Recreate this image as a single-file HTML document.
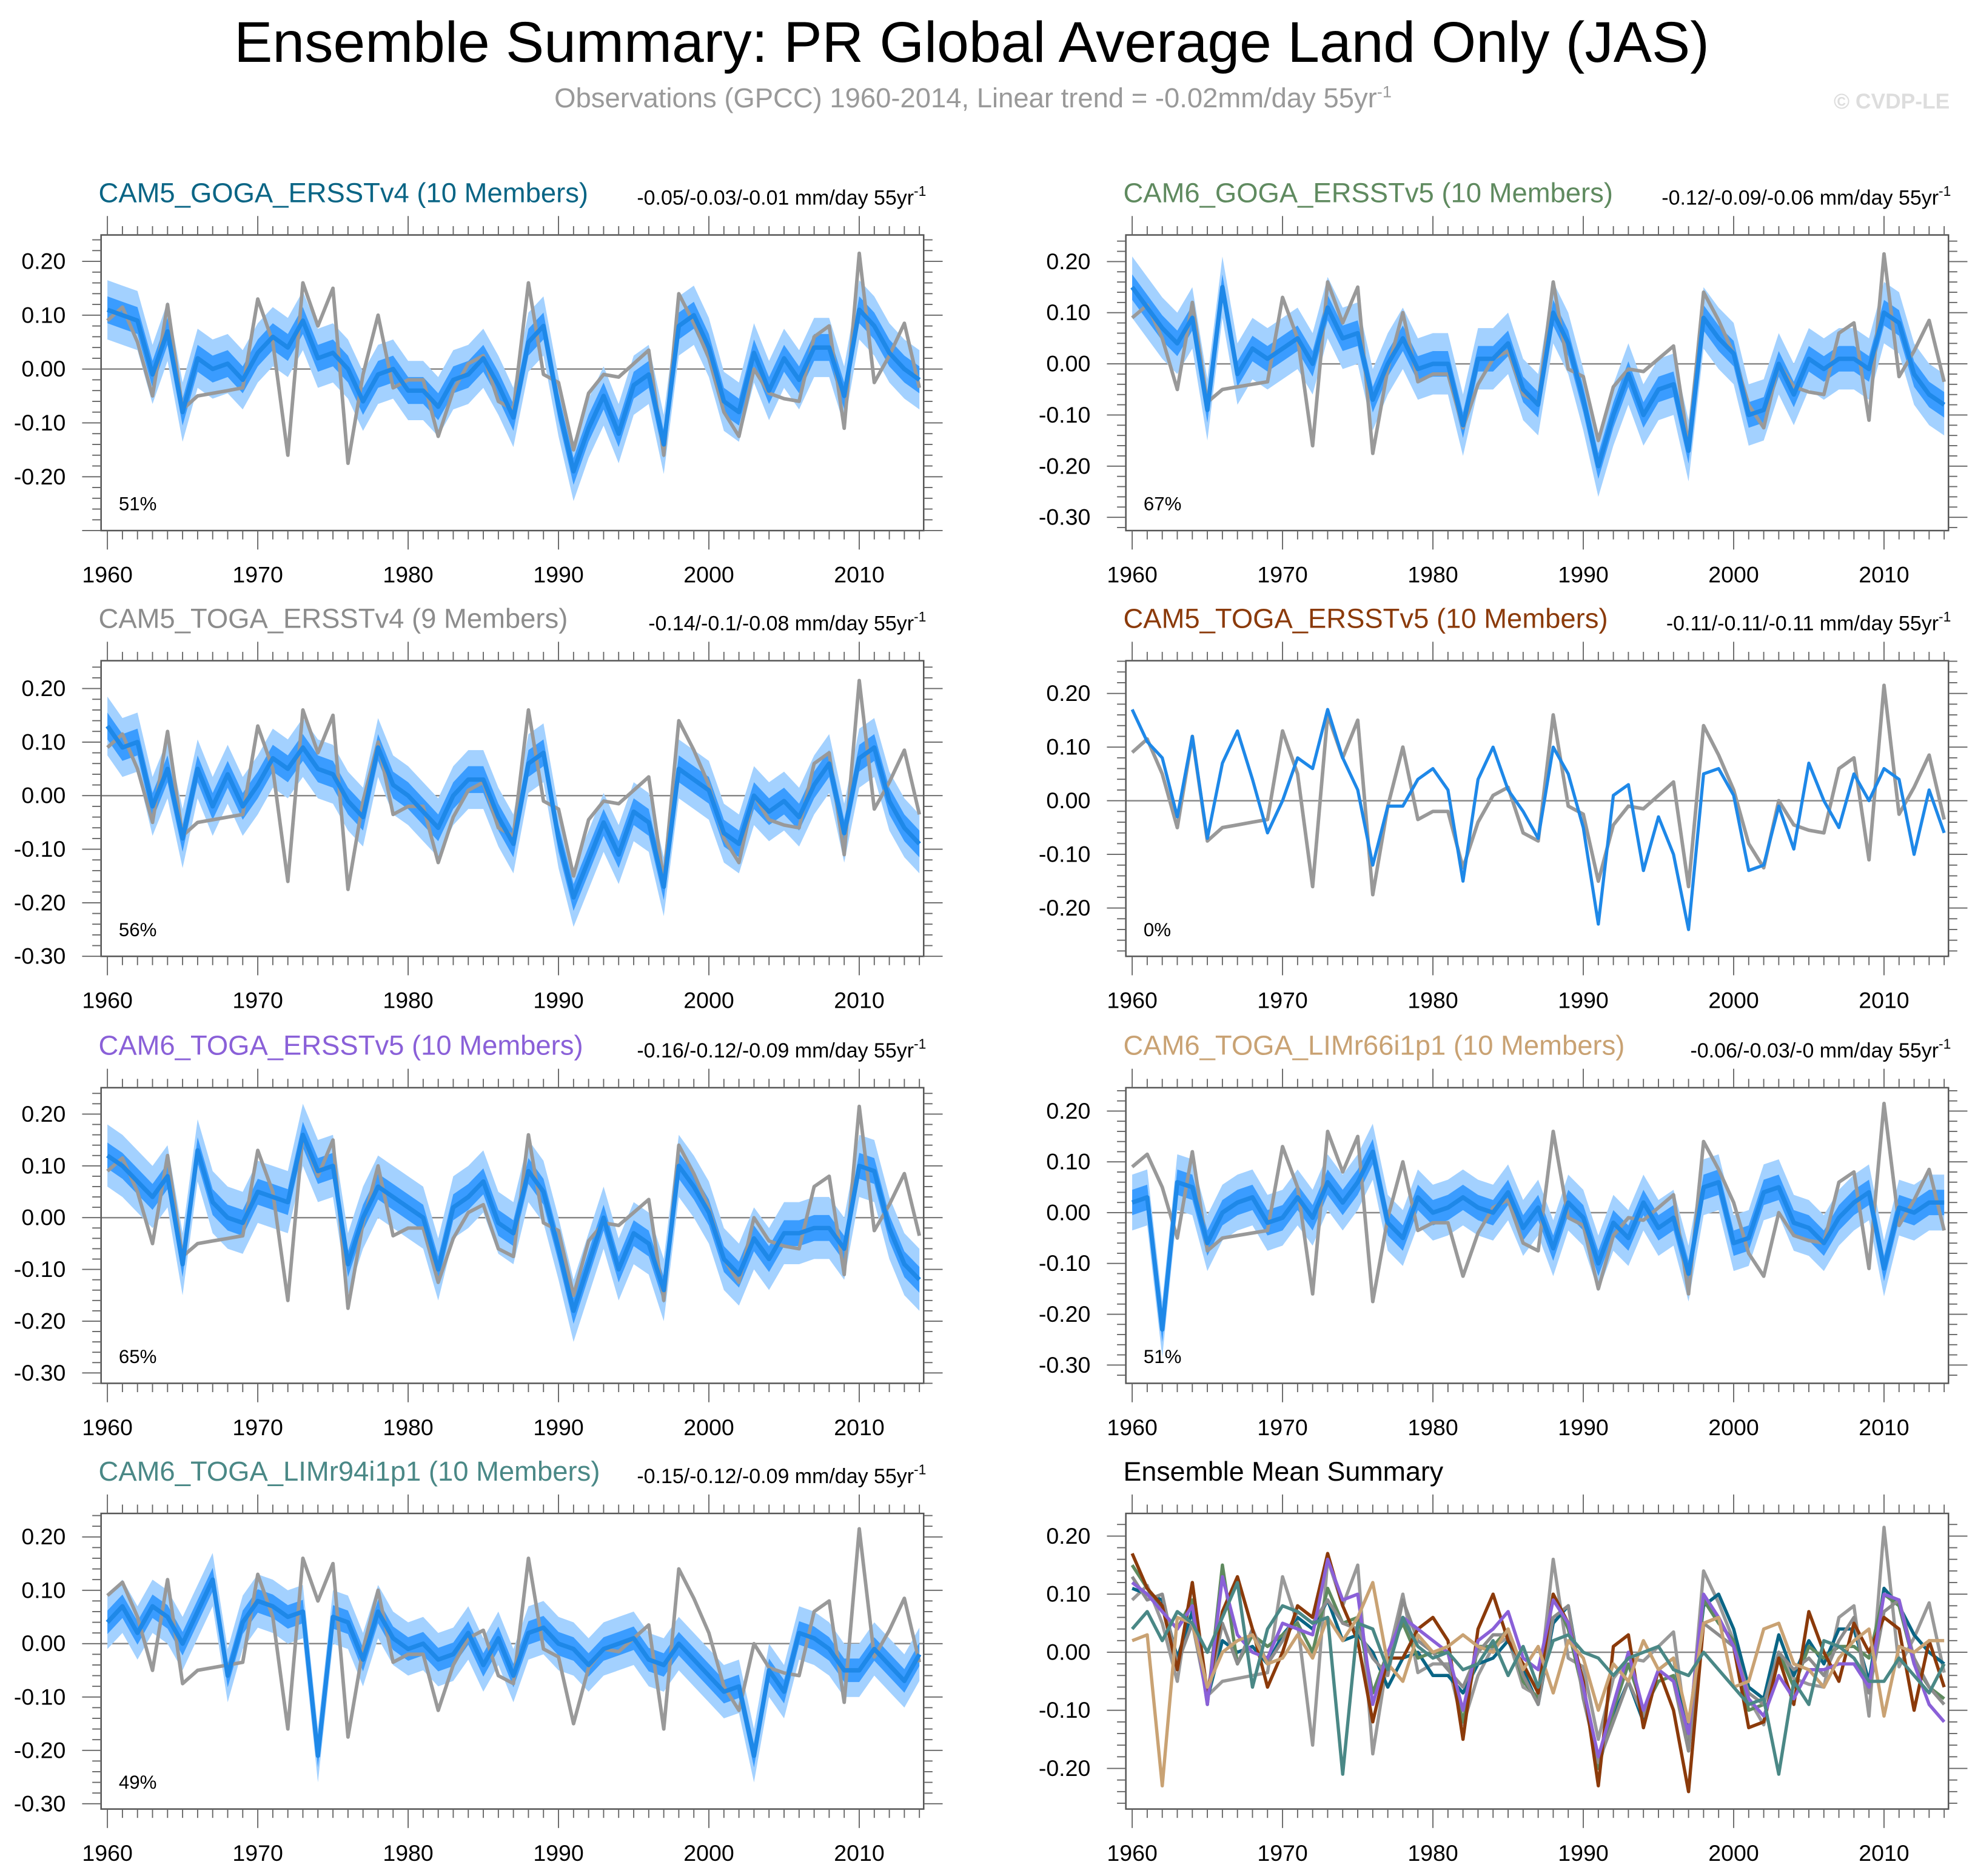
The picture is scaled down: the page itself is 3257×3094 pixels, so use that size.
<!DOCTYPE html>
<html><head><meta charset="utf-8"><style>
html,body{margin:0;padding:0;background:#fff}
svg{display:block}
text{font-family:"Liberation Sans",sans-serif}
</style></head><body>
<svg id="chart" width="3257" height="3094" viewBox="0 0 1563 1485" preserveAspectRatio="none" xmlns="http://www.w3.org/2000/svg">
<text x="769" y="49" font-size="45.5" text-anchor="middle" fill="#000">Ensemble Summary: PR Global Average Land Only (JAS)</text>
<text x="770" y="85" font-size="21.8" text-anchor="middle" fill="#999">Observations (GPCC) 1960-2014, Linear trend = -0.02mm/day 55yr<tspan dy="-8" font-size="13">-1</tspan></text>
<text x="1543" y="86" font-size="17" font-weight="bold" text-anchor="end" fill="#ddd">© CVDP-LE</text>
</svg>
<script>
const years = [];
for (let y = 1960; y <= 2014; y++) years.push(y);
const obs = [0.09,0.115,0.05,-0.05,0.12,-0.075,-0.05,-0.045,-0.04,-0.035,0.13,0.05,-0.16,0.16,0.08,0.15,-0.175,-0.01,0.10,-0.035,-0.02,-0.02,-0.125,-0.04,0.01,0.025,-0.06,-0.075,0.16,-0.01,-0.025,-0.15,-0.045,-0.01,-0.015,0.01,0.035,-0.16,0.14,0.085,0.02,-0.08,-0.125,0.0,-0.045,-0.055,-0.06,0.06,0.08,-0.11,0.215,-0.025,0.025,0.085,-0.035];
const meanCam5GogaV4 = [0.11,0.10,0.09,-0.01,0.07,-0.08,0.02,0.0,0.01,-0.02,0.03,0.06,0.04,0.09,0.02,0.03,0.0,-0.06,-0.01,0.0,-0.04,-0.04,-0.07,-0.02,-0.01,0.02,-0.03,-0.09,0.05,0.08,-0.07,-0.19,-0.11,-0.05,-0.12,-0.03,-0.01,-0.14,0.08,0.10,0.04,-0.06,-0.08,0.03,-0.04,0.02,-0.02,0.04,0.04,-0.05,0.11,0.08,0.03,0.0,-0.02];
const meanCam6GogaV5 = [0.15,0.11,0.07,0.04,0.09,-0.09,0.15,-0.02,0.03,0.01,0.03,0.05,0.0,0.11,0.05,0.06,-0.07,0.0,0.05,-0.01,0.0,0.0,-0.12,0.01,0.01,0.04,-0.05,-0.08,0.10,0.04,-0.07,-0.20,-0.10,-0.02,-0.10,-0.05,-0.04,-0.17,0.09,0.05,0.02,-0.10,-0.09,0.0,-0.06,0.01,-0.01,0.01,0.01,-0.01,0.10,0.08,-0.02,-0.06,-0.08];
const meanCam5TogaV4 = [0.13,0.09,0.10,-0.02,0.05,-0.08,0.05,-0.02,0.04,-0.02,0.02,0.07,0.05,0.09,0.05,0.04,-0.01,-0.04,0.09,0.02,0.0,-0.03,-0.06,0.0,0.03,0.03,-0.04,-0.09,0.06,0.08,-0.08,-0.19,-0.12,-0.05,-0.11,-0.03,-0.05,-0.17,0.05,0.03,0.01,-0.07,-0.09,0.0,-0.03,-0.01,-0.04,0.02,0.06,-0.07,0.07,0.09,-0.01,-0.06,-0.09];
const meanCam5TogaV5 = [0.17,0.11,0.08,-0.03,0.12,-0.07,0.07,0.13,0.04,-0.06,0.0,0.08,0.06,0.17,0.08,0.02,-0.12,-0.01,-0.01,0.04,0.06,0.02,-0.15,0.04,0.10,0.02,-0.02,-0.07,0.10,0.05,-0.05,-0.23,0.01,0.03,-0.13,-0.03,-0.10,-0.24,0.05,0.06,0.01,-0.13,-0.12,-0.01,-0.09,0.07,0.0,-0.05,0.05,0.0,0.06,0.04,-0.10,0.02,-0.06];
const meanCam6TogaV5 = [0.12,0.10,0.07,0.04,0.08,-0.09,0.13,0.03,0.0,-0.01,0.05,0.04,0.03,0.16,0.09,0.10,-0.09,0.0,0.06,0.04,0.02,0.0,-0.10,0.02,0.04,0.07,-0.01,-0.03,0.09,0.05,-0.06,-0.18,-0.09,0.0,-0.10,-0.03,-0.05,-0.14,0.10,0.06,0.01,-0.08,-0.11,-0.04,-0.08,-0.03,-0.03,-0.02,-0.02,-0.06,0.10,0.09,-0.02,-0.09,-0.12];
const meanLim66 = [0.02,0.03,-0.23,0.06,0.05,-0.06,0.0,0.02,0.03,-0.02,-0.01,0.03,-0.01,0.06,0.02,0.06,0.12,-0.02,-0.05,0.03,0.0,0.01,0.03,0.01,0.0,0.04,-0.03,0.01,-0.07,0.02,-0.01,-0.10,-0.02,-0.05,0.02,-0.03,-0.01,-0.12,0.05,0.06,-0.06,-0.05,0.04,0.05,-0.02,-0.03,-0.06,-0.01,0.02,0.04,-0.11,0.01,0.0,0.02,0.02];
const meanLim94 = [0.04,0.07,0.02,0.07,0.05,0.0,0.06,0.12,-0.06,0.04,0.08,0.07,0.05,0.06,-0.21,0.05,0.04,-0.03,0.06,0.01,-0.01,0.0,-0.03,-0.02,0.02,-0.04,0.01,-0.06,0.02,0.03,0.0,-0.01,-0.04,-0.01,0.0,0.01,-0.03,-0.04,0.0,-0.03,-0.06,-0.09,-0.08,-0.21,-0.05,-0.09,0.02,0.01,-0.01,-0.05,-0.05,-0.01,-0.04,-0.07,-0.02];
// band half-widths (inner = interquartile-ish, outer = full spread), per panel
const innerSpread = [0.025,0.025,0.025,0,0.025,0.025,0.022];
const outerSpread = [0.055,0.06,0.055,0,0.06,0.055,0.05];

const NS = "http://www.w3.org/2000/svg";
const svg = document.getElementById('chart');
function mk(tag, attrs, parent) {
  const e = document.createElementNS(NS, tag);
  for (const k in attrs) e.setAttribute(k, attrs[k]);
  (parent || svg).appendChild(e);
  return e;
}

const panels = [
  {name:'cam5-goga-ersstv4', title:'CAM5_GOGA_ERSSTv4 (10 Members)', color:'#0a6585', trend:'-0.05/-0.03/-0.01 mm/day 55yr', pct:'51%', mean:meanCam5GogaV4, x0:80, y0:186, ymax:0.249, ymin:-0.30, ticks:[0.2,0.1,0,-0.1,-0.2]},
  {name:'cam6-goga-ersstv5', title:'CAM6_GOGA_ERSSTv5 (10 Members)', color:'#5f8a5f', trend:'-0.12/-0.09/-0.06 mm/day 55yr', pct:'67%', mean:meanCam6GogaV5, x0:891, y0:186, ymax:0.252, ymin:-0.326, ticks:[0.2,0.1,0,-0.1,-0.2,-0.3]},
  {name:'cam5-toga-ersstv4', title:'CAM5_TOGA_ERSSTv4 (9 Members)', color:'#8c8c8c', trend:'-0.14/-0.1/-0.08 mm/day 55yr', pct:'56%', mean:meanCam5TogaV4, x0:80, y0:523, ymax:0.252, ymin:-0.30, ticks:[0.2,0.1,0,-0.1,-0.2,-0.3]},
  {name:'cam5-toga-ersstv5', title:'CAM5_TOGA_ERSSTv5 (10 Members)', color:'#8b3a0a', trend:'-0.11/-0.11/-0.11 mm/day 55yr', pct:'0%', mean:meanCam5TogaV5, x0:891, y0:523, ymax:0.261, ymin:-0.29, ticks:[0.2,0.1,0,-0.1,-0.2]},
  {name:'cam6-toga-ersstv5', title:'CAM6_TOGA_ERSSTv5 (10 Members)', color:'#8a60d8', trend:'-0.16/-0.12/-0.09 mm/day 55yr', pct:'65%', mean:meanCam6TogaV5, x0:80, y0:861, ymax:0.251, ymin:-0.32, ticks:[0.2,0.1,0,-0.1,-0.2,-0.3]},
  {name:'cam6-toga-limr66i1p1', title:'CAM6_TOGA_LIMr66i1p1 (10 Members)', color:'#c9a273', trend:'-0.06/-0.03/-0 mm/day 55yr', pct:'51%', mean:meanLim66, x0:891, y0:861, ymax:0.246, ymin:-0.336, ticks:[0.2,0.1,0,-0.1,-0.2,-0.3]},
  {name:'cam6-toga-limr94i1p1', title:'CAM6_TOGA_LIMr94i1p1 (10 Members)', color:'#4a8886', trend:'-0.15/-0.12/-0.09 mm/day 55yr', pct:'49%', mean:meanLim94, x0:80, y0:1198, ymax:0.244, ymin:-0.31, ticks:[0.2,0.1,0,-0.1,-0.2,-0.3]},
];
const W = 651, H = 234;

function axes(p, g) {
  const xs = yr => p.x0 + 5 + (yr - 1960) * 11.9;
  const ys = v => p.y0 + (p.ymax - v) / (p.ymax - p.ymin) * H;
  mk('line', {x1:p.x0, x2:p.x0+W, y1:ys(0), y2:ys(0), stroke:'#888', 'stroke-width':1.2}, g);
  return {xs, ys};
}
function frame(p, g, xs, ys) {
  mk('rect', {x:p.x0, y:p.y0, width:W, height:H, fill:'none', stroke:'#555', 'stroke-width':1.2}, g);
  for (const yr of years) {
    const major = yr % 10 === 0;
    const L = major ? 15 : 7;
    mk('line', {x1:xs(yr), x2:xs(yr), y1:p.y0, y2:p.y0-L, stroke:'#666', 'stroke-width':0.9}, g);
    mk('line', {x1:xs(yr), x2:xs(yr), y1:p.y0+H, y2:p.y0+H+L, stroke:'#666', 'stroke-width':0.9}, g);
    if (major) {
      const t = mk('text', {x:xs(yr), y:p.y0+H+41, 'font-size':18, 'text-anchor':'middle', fill:'#000'}, g);
      
      
      t.textContent = yr;
    }
  }
  for (let k = -40; k <= 30; k++) {
    const v = k * 0.02;
    if (v > p.ymax || v < p.ymin) continue;
    const major = k % 5 === 0;
    const L = major ? 15 : 7;
    mk('line', {x1:p.x0, x2:p.x0-L, y1:ys(v), y2:ys(v), stroke:'#666', 'stroke-width':0.9}, g);
    mk('line', {x1:p.x0+W, x2:p.x0+W+L, y1:ys(v), y2:ys(v), stroke:'#666', 'stroke-width':0.9}, g);
  }
  for (const v of p.ticks) {
    const t = mk('text', {x:p.x0-28, y:ys(v)+6, 'font-size':18, 'text-anchor':'end', fill:'#000'}, g);
    
    
    t.textContent = v.toFixed(2);
  }
}
function linePath(arr, xs, ys) {
  return arr.map((v,i) => (i ? 'L' : 'M') + xs(years[i]).toFixed(1) + ',' + ys(v).toFixed(1)).join('');
}
function bandPath(arr, w, xs, ys) {
  let d = arr.map((v,i) => (i ? 'L' : 'M') + xs(years[i]).toFixed(1) + ',' + ys(v + w).toFixed(1)).join('');
  for (let i = arr.length - 1; i >= 0; i--) d += 'L' + xs(years[i]).toFixed(1) + ',' + ys(arr[i] - w).toFixed(1);
  return d + 'Z';
}

panels.forEach((p, idx) => {
  const g = mk('g', {});
  
  
  const {xs, ys} = axes(p, g);
  if (outerSpread[idx] > 0) {
    const ob = mk('path', {d:bandPath(p.mean, outerSpread[idx], xs, ys), fill:'#a3d1ff'}, g);
    
    
    const ib = mk('path', {d:bandPath(p.mean, innerSpread[idx], xs, ys), fill:'#3a9cff'}, g);
    
    
  }
  const ol = mk('path', {d:linePath(obs, xs, ys), fill:'none', stroke:'#999', 'stroke-width':2.8, 'stroke-linejoin':'round'}, g);
  
  
  const ml = mk('path', {d:linePath(p.mean, xs, ys), fill:'none', stroke:'#1e88e8', 'stroke-width':outerSpread[idx] > 0 ? 3.5 : 2.5, 'stroke-linejoin':'round'}, g);
  
  
  frame(p, g, xs, ys);
  const t = mk('text', {x:p.x0-2, y:p.y0-26, 'font-size':21.8, fill:p.color}, g);
  
  
  t.textContent = p.title;
  const tr = mk('text', {x:p.x0+W+2, y:p.y0-24, 'font-size':16.3, 'text-anchor':'end', fill:'#000'}, g);
  
  
  tr.innerHTML = p.trend + '<tspan dy="-7" font-size="11">-1</tspan>';
  const pc = mk('text', {x:p.x0+14, y:p.y0+H-16, 'font-size':15, fill:'#000'}, g);
  
  
  pc.textContent = p.pct;
});

const sp = {x0:891, y0:1198, ymax:0.239, ymin:-0.27, ticks:[0.2,0.1,0,-0.1,-0.2]};
const sg = mk('g', {});


const sax = axes(sp, sg);
const so = mk('path', {d:linePath(obs, sax.xs, sax.ys), fill:'none', stroke:'#999', 'stroke-width':2.6, 'stroke-linejoin':'round'}, sg);


panels.forEach(p => {
  const l = mk('path', {d:linePath(p.mean, sax.xs, sax.ys), fill:'none', stroke:p.color, 'stroke-width':2.6, 'stroke-linejoin':'round'}, sg);
  
  
});
frame(sp, sg, sax.xs, sax.ys);
const st = mk('text', {x:sp.x0-2, y:sp.y0-26, 'font-size':21.5, fill:'#000'}, sg);


st.textContent = 'Ensemble Mean Summary';
</script>
</body></html>
